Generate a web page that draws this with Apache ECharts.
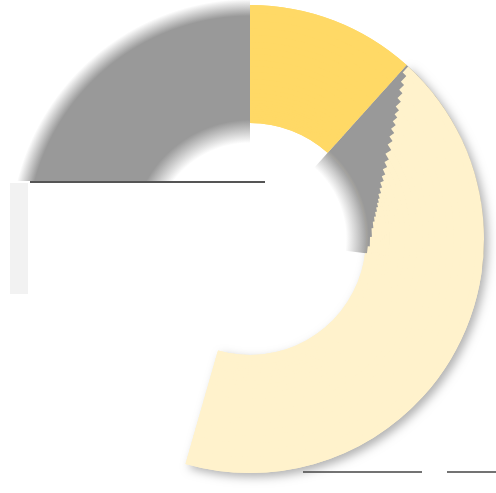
<!DOCTYPE html>
<html>
<head>
<meta charset="utf-8">
<script src="https://cdn.jsdelivr.net/npm/echarts@6/dist/echarts.min.js"></script>
<style>
  html, body { margin: 0; padding: 0; background: #fff; }
  #chart { width: 496px; height: 493px; }
</style>
</head>
<body>
<div id="chart"></div>
<script>
// slice sizes in degrees, clockwise from 12 o'clock
const yellowDeg = 42
const creamEndDeg = 196
const grayStartDeg = 265
// the cream's first edge is slanted: its start angle read at several radii
const bandRadii = [116, 118, 120, 122, 124, 126, 128, 130, 132, 134, 136, 139, 142, 146, 150, 155, 160, 167, 173, 179, 185, 191, 197, 204, 211, 218, 226, 234]
const creamStartDeg = [97, 93.5, 89, 85, 82, 79.8, 77.8, 76, 74.2, 72.6, 70.7, 68.7, 66.5, 64.5, 62.3, 60.2, 57.8, 55.5, 53.7, 52, 50.5, 49.2, 47.7, 46.3, 45, 43.8, 42.5]

const YELLOW = '#FFD966'
const CREAM = '#FFF2CC'
const GRAY = '#999999'
const NONE = 'rgba(0,0,0,0)'

const center = [250, 239]
const common = {
  type: 'pie',
  center: center,
  startAngle: 90,
  clockwise: true,
  silent: true,
  animation: false,
  label: { show: false },
  labelLine: { show: false },
  emphasis: { disabled: true },
  itemStyle: { borderWidth: 0 }
}

// soft (blurred) gray ring: fades out on the inner and outer side
const R = 240
const blurGray = {
  type: 'radial', x: center[0], y: center[1], r: R, global: true,
  colorStops: [
    { offset: 96 / R, color: 'rgba(153,153,153,0)' },
    { offset: 119 / R, color: GRAY },
    { offset: 223 / R, color: GRAY },
    { offset: 1, color: 'rgba(153,153,153,0)' }
  ]
}
const blurGrayInner = Object.assign({}, blurGray, {
  colorStops: blurGray.colorStops.slice(0, 2).concat([{ offset: 1, color: GRAY }])
})

let myChart = echarts.init(document.getElementById('chart'))

// blurred gray part of the ring
const baseSeries = Object.assign({}, common, {
  radius: [96, 240],
  data: [
    { value: grayStartDeg, itemStyle: { color: NONE } },
    { value: 360 - grayStartDeg, itemStyle: { color: blurGray } }
  ]
})
// yellow and cream with a soft shadow
const ringSeries = Object.assign({}, common, {
  radius: [116, 234],
  data: [
    { value: yellowDeg, itemStyle: { color: YELLOW } },
    { value: creamEndDeg - yellowDeg, itemStyle: { color: CREAM, shadowBlur: 10, shadowOffsetX: 4, shadowOffsetY: 4, shadowColor: 'rgba(0,0,0,0.3)' } },
    { value: 360 - creamEndDeg, itemStyle: { color: NONE } }
  ]
})

// gray gap between the yellow and the cream
const gapMax = creamStartDeg[0]
const wedgeSeries = Object.assign({}, common, {
  radius: [96, 234],
  data: [
    { value: yellowDeg, itemStyle: { color: NONE } },
    { value: gapMax - yellowDeg, itemStyle: { color: blurGrayInner } },
    { value: 360 - gapMax, itemStyle: { color: NONE } }
  ]
})

// top rings: yellow, gap, cream (each overlaps the next by 1px)
const bandSeries = creamStartDeg.map((start, i) => Object.assign({}, common, {
  radius: [bandRadii[i], i < creamStartDeg.length - 1 ? bandRadii[i + 1] + 1 : bandRadii[i + 1]],
  data: [
    { value: yellowDeg, itemStyle: { color: YELLOW } },
    { value: start - yellowDeg, itemStyle: { color: NONE } },
    { value: creamEndDeg - start, itemStyle: { color: CREAM } },
    { value: 360 - creamEndDeg, itemStyle: { color: NONE } }
  ]
}))

myChart.setOption({
  backgroundColor: '#fff',
  series: [baseSeries, ringSeries, wedgeSeries].concat(bandSeries),
  graphic: [
    { type: 'rect', shape: { x: 10, y: 181, width: 255, height: 113 }, style: { fill: '#fff' }, z: 100 },
    { type: 'rect', shape: { x: 10, y: 183, width: 18, height: 111 }, style: { fill: '#f2f2f2' }, z: 100 },
    { type: 'line', shape: { x1: 30, y1: 182, x2: 265, y2: 182 }, style: { stroke: '#555', lineWidth: 2 }, z: 101 },
    { type: 'line', shape: { x1: 303, y1: 472, x2: 422, y2: 472 }, style: { stroke: '#444', lineWidth: 1.5 }, z: 101 },
    { type: 'line', shape: { x1: 447, y1: 472, x2: 496, y2: 472 }, style: { stroke: '#444', lineWidth: 1.5 }, z: 101 }
  ]
})
</script>
</body>
</html>
